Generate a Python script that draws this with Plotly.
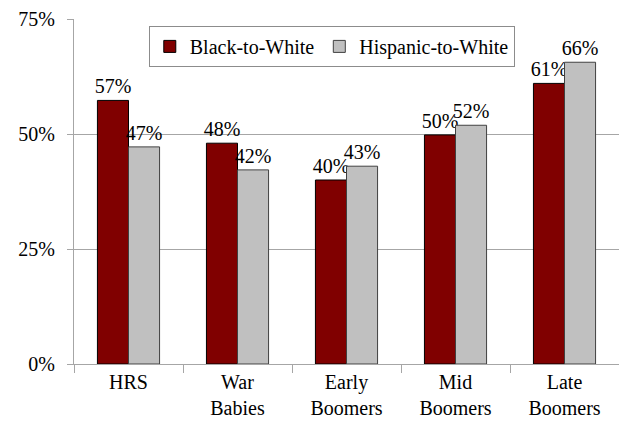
import plotly.graph_objects as go

categories = ["HRS", "War<br>Babies", "Early<br>Boomers", "Mid<br>Boomers", "Late<br>Boomers"]
black_to_white = [57.3, 48.0, 40.0, 49.8, 61.0]
hispanic_to_white = [47.2, 42.2, 43.0, 51.9, 65.6]
black_labels = ["57%", "48%", "40%", "50%", "61%"]
hispanic_labels = ["47%", "42%", "43%", "52%", "66%"]
y_ticks = [0, 25, 50, 75]
y_tick_labels = ["0%", "25%", "50%", "75%"]

FONT = "serif"
TXT = dict(family=FONT, size=20)

fig = go.Figure()
fig.add_trace(go.Bar(
    name="Black-to-White", x=categories, y=black_to_white,
    text=black_labels, textposition="outside", cliponaxis=False,
    constraintext="none",
    marker=dict(color="#800000", line=dict(color="#000000", width=1)),
    textfont=TXT,
))
fig.add_trace(go.Bar(
    name="Hispanic-to-White", x=categories, y=hispanic_to_white,
    text=hispanic_labels, textposition="outside", cliponaxis=False,
    constraintext="none",
    marker=dict(color="#c0c0c0", line=dict(color="#404040", width=1)),
    textfont=TXT,
))

fig.update_layout(
    width=619, height=429,
    margin=dict(l=74, r=0, t=19, b=65),
    paper_bgcolor="white", plot_bgcolor="white",
    barmode="group", bargap=0.43, bargroupgap=0,
    font_family=FONT, font_size=20, font_color="black",
    showlegend=True,
    legend=dict(
        orientation="h", x=0.473, xanchor="center", y=0.98, yanchor="top",
        bordercolor="#8c8c8c", borderwidth=1, bgcolor="white",
        font=TXT,
        itemwidth=30, tracegroupgap=0,
    ),
)
fig.update_yaxes(
    range=[0, 75], tickvals=y_ticks, ticktext=y_tick_labels,
    showgrid=True, gridcolor="#a6a6a6", gridwidth=1,
    showline=True, linecolor="#a6a6a6", linewidth=1,
    ticks="outside", ticklen=6, tickcolor="#a6a6a6",
    ticklabelstandoff=8, zeroline=False,
    tickfont=TXT,
)
fig.update_xaxes(
    showline=True, linecolor="#a6a6a6", linewidth=1,
    ticks="outside", ticklen=8, tickcolor="#a6a6a6", tickson="boundaries",
    showgrid=False, tickfont=TXT,
)

fig.write_html("out.html")
